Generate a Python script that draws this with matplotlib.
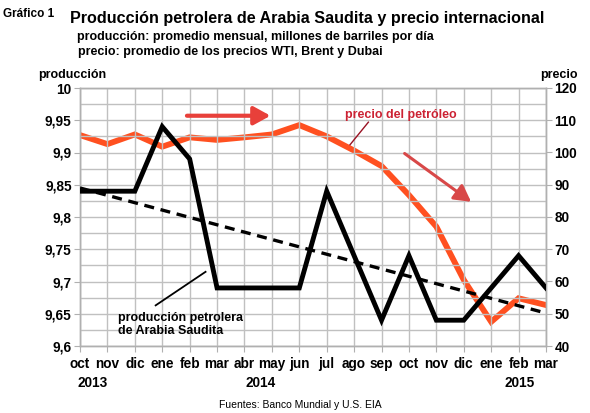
import matplotlib
matplotlib.use("Agg")
import matplotlib.pyplot as plt
from matplotlib.ticker import MultipleLocator

plt.rcParams['font.family'] = ['Liberation Sans', 'DejaVu Sans']

months = ["oct", "nov", "dic", "ene", "feb", "mar", "abr", "may", "jun",
          "jul", "ago", "sep", "oct", "nov", "dic", "ene", "feb", "mar"]
years = ["2013", "2014", "2015"]
year_pos = [0.45, 6.6, 16.05]

produccion = [9.84, 9.84, 9.84, 9.94, 9.89, 9.69, 9.69, 9.69, 9.69,
              9.84, 9.74, 9.64, 9.74, 9.64, 9.64, 9.69, 9.74, 9.69]
precio = [105.4, 102.6, 105.6, 101.8, 104.7, 103.9, 104.7, 105.6, 108.5,
          105.0, 100.6, 95.8, 86.8, 77.0, 60.5, 47.5, 54.8, 52.7]
tendencia_x = [0, 17]
tendencia_y = [9.845, 9.651]

left_ticks = [9.6, 9.65, 9.7, 9.75, 9.8, 9.85, 9.9, 9.95, 10.0]
left_labels = ["9,6", "9,65", "9,7", "9,75", "9,8", "9,85", "9,9", "9,95", "10"]
right_ticks = [40, 50, 60, 70, 80, 90, 100, 110, 120]

fig = plt.figure(figsize=(5.9, 4.13), dpi=100)
ax = fig.add_axes([80/590, 1-346/413, 466/590, 258/413])
ax2 = ax.twinx()

x = list(range(len(months)))
grid_c = "#c0c0c0"

ax.set_xlim(0, 17)
ax.set_ylim(9.6, 10.0)
ax2.set_ylim(40, 120)

ax.set_yticks(left_ticks)
ax.set_yticklabels(left_labels)
ax.yaxis.set_minor_locator(MultipleLocator(0.025))
ax.set_xticks(x)
ax.set_xticklabels(months)
ax2.set_yticks(right_ticks)

ax.grid(True, which='major', color=grid_c, lw=1.0)
ax.grid(True, which='minor', axis='y', color=grid_c, lw=1.0)
ax.set_axisbelow(True)

for a in (ax, ax2):
    for s in a.spines.values():
        s.set_color("#b0b0b0")
        s.set_linewidth(1.0)
ax.tick_params(axis='y', which='both', length=4, color="#b0b0b0", labelsize=9.8, pad=2)
ax.tick_params(axis='y', which='minor', length=0)
ax.tick_params(axis='x', length=4, color="#b0b0b0", labelsize=9.8, pad=4)
ax2.tick_params(axis='y', length=4, color="#b0b0b0", labelsize=9.8, pad=2)
for lab in ax.get_yticklabels() + ax.get_xticklabels() + ax2.get_yticklabels():
    lab.set_fontweight('bold')

ax2.plot(x, precio, color="#ff5020", lw=4.2, solid_joinstyle='miter', zorder=3)
ax.plot(x, produccion, color="black", lw=3.5, solid_joinstyle='miter', zorder=4)
ax.plot(tendencia_x, tendencia_y, color="black", lw=2.4, ls=(0, (3, 2)), zorder=4)
ax.set_zorder(ax2.get_zorder() + 1)
ax.patch.set_visible(False)

# arrows
ax.annotate("", xy=(7.05, 9.957), xytext=(3.8, 9.957),
            arrowprops=dict(arrowstyle="-|>,head_length=1.0,head_width=0.55",
                            color="#e8403a", lw=3.0), zorder=5)
ax.annotate("", xy=(14.35, 9.821), xytext=(11.76, 9.901),
            arrowprops=dict(arrowstyle="-|>,head_length=1.0,head_width=0.55",
                            color="#d84848", lw=2.2), zorder=5)

# labels
ax.text(11.7, 9.958, "precio del petróleo", color="#cc2233", fontsize=9,
        fontweight='bold', ha='center', va='center', zorder=6)
ax.plot([10.52, 9.85], [9.947, 9.912], color="#991122", lw=1.0, zorder=6)
ax.text(1.4, 9.633, "producción petrolera\nde Arabia Saudita", color="black",
        fontsize=9, fontweight='bold', ha='left', va='center', linespacing=1.15, zorder=6)
ax.plot([2.76, 4.58], [9.663, 9.715], color="black", lw=1.3, zorder=6)

for yl, yp in zip(years, year_pos):
    ax.text(yp, -0.145, yl, transform=ax.get_xaxis_transform(), fontsize=9.8,
            fontweight='bold', ha='center', va='center')

fig.text(0.005, 1-14/413, "Gráfico 1", fontsize=8.5, fontweight='bold', va='center', ha='left')
fig.text(307/590, 1-18/413, "Producción petrolera de Arabia Saudita y precio internacional",
         fontsize=11.6, fontweight='bold', ha='center', va='center')
fig.text(77/590, 1-37/413, "producción: promedio mensual, millones de barriles por día",
         fontsize=9, fontweight='bold', ha='left', va='center')
fig.text(78/590, 1-52/413, "precio: promedio de los precios WTI, Brent y Dubai",
         fontsize=9, fontweight='bold', ha='left', va='center')
fig.text(38/590, 1-75/413, "producción", fontsize=9, fontweight='bold', ha='left', va='center')
fig.text(578/590, 1-75/413, "precio", fontsize=9, fontweight='bold', ha='right', va='center')
fig.text(300/590, 1-405/413, "Fuentes: Banco Mundial y U.S. EIA", fontsize=7.5,
         ha='center', va='center')

fig.savefig("out.png", dpi=100)
